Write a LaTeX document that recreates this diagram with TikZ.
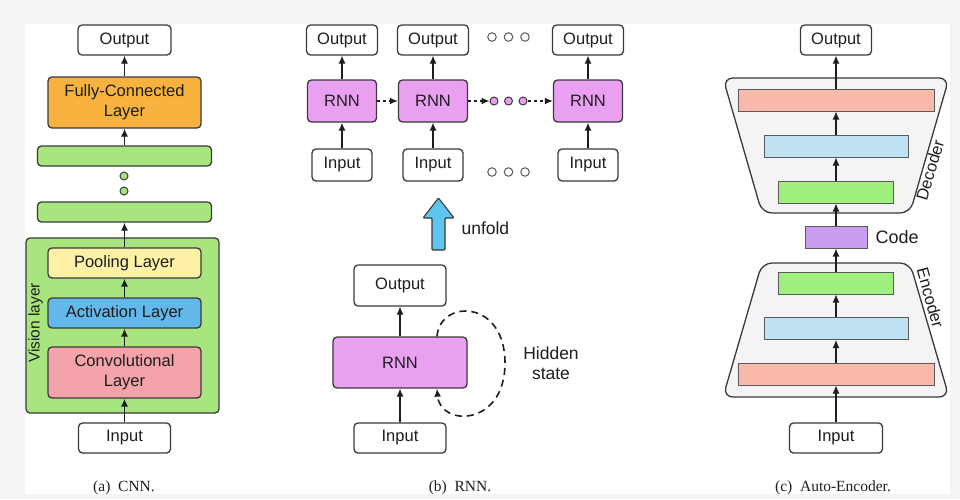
\documentclass[tikz,border=0pt]{standalone}
\usepackage{fontspec}
\setmainfont{Liberation Serif}
\newfontfamily\lsans{Liberation Sans}
\usetikzlibrary{arrows.meta,calc}

\definecolor{pagegray}{HTML}{F4F4F4}
\definecolor{edge}{HTML}{3A3A3A}
\definecolor{ink}{HTML}{1E1E1E}
\definecolor{fcorange}{HTML}{F7B13F}
\definecolor{cnngreen}{HTML}{A8E57E}
\definecolor{poolyellow}{HTML}{FEF1A6}
\definecolor{actblue}{HTML}{63B8EA}
\definecolor{convpink}{HTML}{F4A3AA}
\definecolor{rnnviolet}{HTML}{EAA0F1}
\definecolor{unfoldblue}{HTML}{5EC6EE}
\definecolor{aepink}{HTML}{F9B9AB}
\definecolor{aeblue}{HTML}{BEE2F1}
\definecolor{aegreen}{HTML}{A0F07F}
\definecolor{codepurple}{HTML}{C99CEF}
\definecolor{trapfill}{HTML}{F4F4F6}
\definecolor{bargray}{HTML}{5A5A5A}

\tikzset{
  lbl/.style={font=\lsans\fontsize{16.5}{20}\selectfont, text=ink},
  blk/.style={lbl, draw=edge, line width=1.3pt, rounded corners=4pt,
              inner sep=0pt, align=center},
  arr/.style={draw=ink, line width=1.2pt, -{Latex[length=8pt,width=7pt]}},
  darr/.style={arr, line width=1.4pt, dash pattern=on 3pt off 3pt},
  bar/.style={draw=bargray, line width=1pt, inner sep=0pt, minimum height=22pt},
  gdot/.style={circle, draw=edge, fill=cnngreen, line width=1pt,
               minimum size=8pt, inner sep=0pt},
  odot/.style={circle, draw=bargray, fill=white, line width=1pt,
               minimum size=8.5pt, inner sep=0pt},
  vdot/.style={circle, draw=edge, fill=rnnviolet, line width=1pt,
               minimum size=8pt, inner sep=0pt},
  subcap/.style={font=\fontsize{15.5}{18}\selectfont, text=ink},
  trap/.style={draw=edge, fill=trapfill, line width=1.3pt, rounded corners=10pt},
}

\begin{document}
\begin{tikzpicture}[x=1pt,y=-1pt]
\useasboundingbox (0,0) rectangle (960,499);
\fill[pagegray] (0,0) rectangle (960,499);
\fill[white] (25,24) rectangle (950,494);

% ---------------- (a) CNN ----------------
\node[blk, fill=cnngreen, minimum width=193pt, minimum height=175pt] (a-vis) at (122.5,325.5) {};
\node[lbl, font=\lsans\fontsize{15.5}{18}\selectfont, rotate=90] (a-vislbl) at (35.5,323) {Vision layer};
\node[blk, fill=white, minimum width=93pt, minimum height=30pt] (a-out) at (124.5,40) {Output};
\node[blk, fill=fcorange, minimum width=153pt, minimum height=51pt] (a-fc) at (124.5,102.5) {Fully-Connected\\Layer};
\node[blk, fill=cnngreen, minimum width=174pt, minimum height=20pt] (a-b1) at (124.5,156) {};
\node[gdot] (a-d1) at (124,176) {};
\node[gdot] (a-d2) at (124,191) {};
\node[blk, fill=cnngreen, minimum width=174pt, minimum height=20pt] (a-b2) at (124.5,212) {};
\node[blk, fill=poolyellow, minimum width=153pt, minimum height=30pt] (a-pool) at (124.5,263) {Pooling Layer};
\node[blk, fill=actblue, minimum width=153pt, minimum height=30pt] (a-act) at (124.5,313) {Activation Layer};
\node[blk, fill=convpink, minimum width=153pt, minimum height=51pt] (a-conv) at (124.5,372.5) {Convolutional\\Layer};
\node[blk, fill=white, minimum width=92pt, minimum height=30pt] (a-in) at (124.5,438) {Input};
\node[subcap] (a-cap) at (124,488) {(a)\enspace CNN.};

\draw[arr] (a-in) -- (a-conv);
\draw[arr] (a-conv) -- (a-act);
\draw[arr] (a-act) -- (a-pool);
\draw[arr] (a-pool) -- (a-b2);
\draw[arr] (a-b1) -- (a-fc);
\draw[arr] (a-fc) -- (a-out);

% ---------------- (b) RNN, unfolded ----------------
\foreach \n/\x in {1/342,2/433,3/588}{
  \node[blk, fill=white, minimum width=71pt, minimum height=30pt] (b-o\n) at (\x,40) {Output};
  \node[blk, fill=rnnviolet, minimum width=69pt, minimum height=42pt] (b-r\n) at (\x,101) {RNN};
  \node[blk, fill=white, minimum width=60pt, minimum height=32pt] (b-i\n) at (\x,165) {Input};
  \draw[arr] (b-i\n) -- (b-r\n);
  \draw[arr] (b-r\n) -- (b-o\n);
}
\foreach \n/\x in {1/492,2/508.5,3/525}{
  \node[odot] (b-to\n) at (\x,37) {};
  \node[odot] (b-bo\n) at (\x,172) {};
}
\foreach \n/\x in {1/494,2/508.5,3/523}{
  \node[vdot] (b-m\n) at (\x,101) {};
}
\draw[darr] (b-r1) -- (b-r2);
\draw[darr] (b-r2) -- (b-m1);
\draw[darr] (b-m3) -- (b-r3);

% unfold arrow
\draw[draw=edge, fill=unfoldblue, line width=1.1pt, rounded corners=1pt]
  (438.5,198) -- (454,218) -- (445,218) -- (445,250) -- (432,250)
  -- (432,218) -- (423,218) -- cycle;
\node[lbl, font=\lsans\fontsize{17.5}{20}\selectfont, anchor=west] (b-unfold) at (458,228) {unfold};

% ---------------- (b) RNN, folded ----------------
\node[blk, fill=white, minimum width=92pt, minimum height=41pt] (b-out) at (400,285.5) {Output};
\node[blk, fill=rnnviolet, minimum width=134pt, minimum height=51pt] (b-rnn) at (400,362.5) {RNN};
\node[blk, fill=white, minimum width=92pt, minimum height=30pt] (b-in) at (400,438) {Input};
\draw[arr] (b-in) -- (b-rnn);
\draw[arr] (b-rnn) -- (b-out);
\draw[arr, line width=1.6pt, dash pattern=on 7pt off 5pt]
  ([xshift=37pt]b-rnn.north) .. controls (440,299) and (505,299) .. (505,363)
  .. controls (505,427) and (440,427) .. ([xshift=37pt]b-rnn.south);
\node[lbl, font=\lsans\fontsize{17.5}{20}\selectfont, align=center] (b-hs) at (551,363) {Hidden\\state};
\node[subcap] (b-cap) at (460,488) {(b)\enspace RNN.};

% ---------------- (c) Auto-Encoder ----------------
\draw[trap] (723,78) -- (949,78) -- (910,213) -- (762,213) -- cycle;
\draw[trap] (762,263) -- (910,263) -- (949,397) -- (723,397) -- cycle;

\node[blk, fill=white, minimum width=71pt, minimum height=30pt] (c-out) at (836,40) {Output};
\node[bar, fill=aepink, minimum width=196pt] (c-d3) at (836,100) {};
\node[bar, fill=aeblue, minimum width=144pt] (c-d2) at (836,146) {};
\node[bar, fill=aegreen, minimum width=115pt] (c-d1) at (836,192) {};
\node[bar, fill=codepurple, minimum width=62pt] (c-code) at (836,237) {};
\node[lbl, font=\lsans\fontsize{18}{20}\selectfont, anchor=west] (c-codelbl) at (872,237) {Code};
\node[bar, fill=aegreen, minimum width=115pt] (c-e3) at (836,283) {};
\node[bar, fill=aeblue, minimum width=144pt] (c-e2) at (836,328.5) {};
\node[bar, fill=aepink, minimum width=196pt] (c-e1) at (836,374) {};
\node[blk, fill=white, minimum width=93pt, minimum height=30pt] (c-in) at (836,438) {Input};

\node[lbl, rotate=73.5, anchor=north, inner sep=1.5pt] (c-declbl) at (922.5,168) {Decoder};
\node[lbl, rotate=-74.5, anchor=south, inner sep=1.5pt] (c-enclbl) at (923,300) {Encoder};
\node[subcap] (c-cap) at (833,488) {(c)\enspace Auto-Encoder.};

\draw[arr] (c-in) -- (c-e1);
\draw[arr] (c-e1) -- (c-e2);
\draw[arr] (c-e2) -- (c-e3);
\draw[arr] (c-e3) -- (c-code);
\draw[arr] (c-code) -- (c-d1);
\draw[arr] (c-d1) -- (c-d2);
\draw[arr] (c-d2) -- (c-d3);
\draw[arr] (c-d3) -- (c-out);
\end{tikzpicture}
\end{document}
